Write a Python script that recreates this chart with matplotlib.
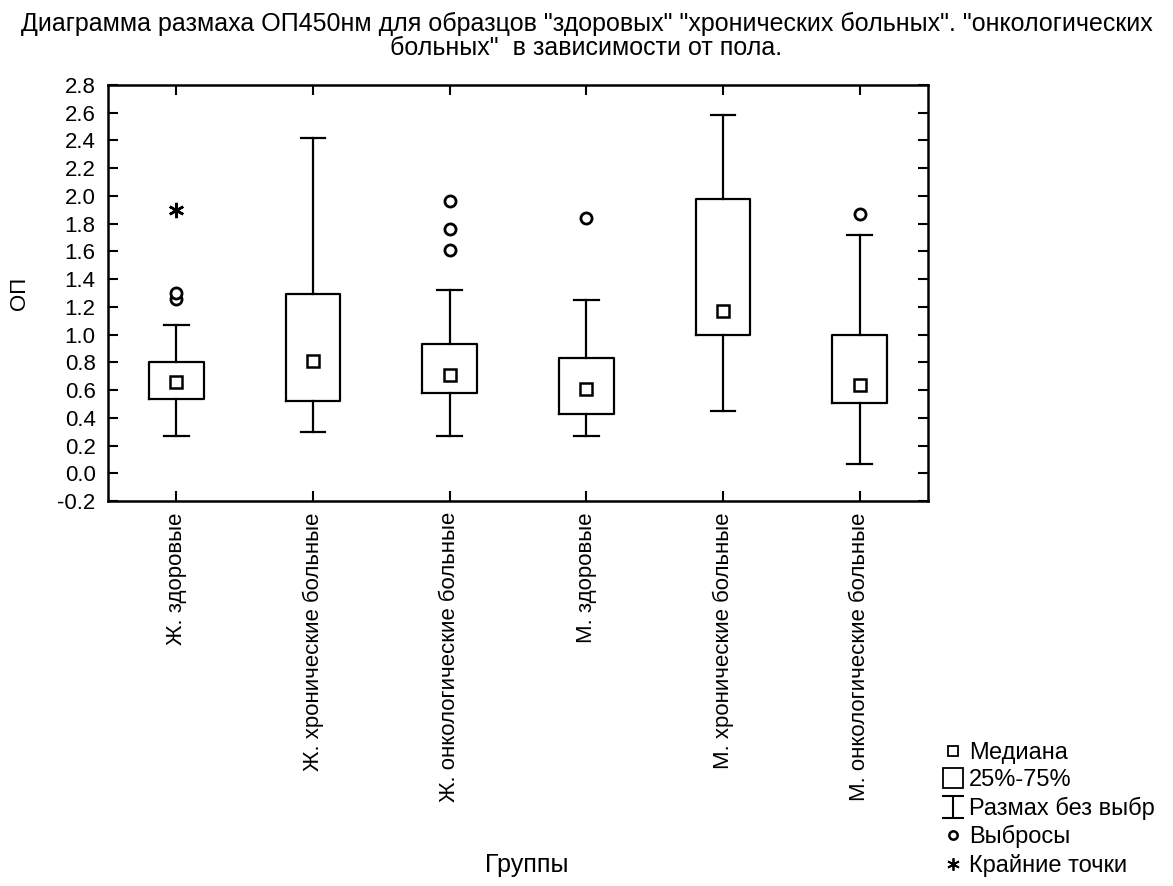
import matplotlib.pyplot as plt
from matplotlib.lines import Line2D
from matplotlib.path import Path

plt.rcParams['font.family'] = ['Liberation Sans', 'DejaVu Sans']

groups = ["Ж. здоровые", "Ж. хронические больные", "Ж. онкологические больные",
          "М. здоровые", "М. хронические больные", "М. онкологические больные"]
medians = [0.655, 0.81, 0.71, 0.61, 1.17, 0.64]
q1 = [0.535, 0.52, 0.58, 0.43, 1.00, 0.51]
q3 = [0.80, 1.29, 0.93, 0.83, 1.98, 1.00]
whisk_lo = [0.27, 0.30, 0.27, 0.27, 0.45, 0.065]
whisk_hi = [1.07, 2.42, 1.32, 1.25, 2.58, 1.72]
outliers = [[1.26, 1.30], [], [1.61, 1.76, 1.96], [1.84], [], [1.87]]
extremes = [[1.90], [], [], [], [], []]

yticks = [-0.2, 0.0, 0.2, 0.4, 0.6, 0.8, 1.0, 1.2, 1.4, 1.6, 1.8, 2.0, 2.2, 2.4, 2.6, 2.8]

fig = plt.figure(figsize=(11.73, 8.86), dpi=100)
ax = fig.add_axes([0.0921, 0.4345, 0.699, 0.4696])

pos = list(range(1, len(groups) + 1))
stats = []
for i in range(len(groups)):
    stats.append(dict(med=medians[i], q1=q1[i], q3=q3[i], whislo=whisk_lo[i],
                      whishi=whisk_hi[i], fliers=outliers[i]))

lw = 1.6
ax.bxp(stats, positions=pos, widths=0.4, showfliers=True,
       boxprops=dict(color="black", lw=lw),
       whiskerprops=dict(color="black", lw=lw),
       capprops=dict(color="black", lw=lw),
       capwidths=0.18,
       medianprops=dict(linestyle="none"),
       flierprops=dict(marker="o", markersize=8, markerfacecolor="white",
                       markeredgecolor="black", markeredgewidth=2))

ax.plot(pos, medians, ls="none", marker="s", markersize=9, markerfacecolor="white",
        markeredgecolor="black", markeredgewidth=1.8, zorder=4)

for p, ex in zip(pos, extremes):
    if ex:
        ax.plot([p] * len(ex), ex, ls="none", marker=(6, 2, 0), markersize=11,
                color="black", markeredgewidth=1.8)

ax.set_xlim(0.5, 6.5)
ax.set_ylim(-0.2, 2.8)
ax.set_yticks(yticks)
ax.set_yticklabels([f"{v:.1f}" for v in yticks], fontsize=16)
ax.set_xticks(pos)
ax.set_xticklabels(groups, rotation=90, fontsize=16)
ax.tick_params(direction="in", length=7, width=1.5, top=True, right=True)
ax.tick_params(axis="y", pad=9)
ax.tick_params(axis="x", pad=8)

for sp in ax.spines.values():
    sp.set_linewidth(1.8)

ax.set_ylabel("ОП", fontsize=16)
ax.yaxis.set_label_coords(-0.095, 0.5)
ax.set_xlabel("Группы", fontsize=18, va="center")
ax.xaxis.set_label_coords(0.511, -0.875)

fig.suptitle('Диаграмма размаха ОП450нм для образцов "здоровых" "хронических больных". "онкологических\n'
             'больных"  в зависимости от пола.', fontsize=18, y=0.987, va="top", linespacing=1.05)

ibeam = Path([(-1, 1), (1, 1), (0, 1), (0, -1), (-1, -1), (1, -1)],
             [Path.MOVETO, Path.LINETO, Path.MOVETO, Path.LINETO, Path.MOVETO, Path.LINETO])
handles = [
    Line2D([], [], ls="none", marker="s", markersize=7, markerfacecolor="white",
           markeredgecolor="black", markeredgewidth=1.3),
    Line2D([], [], ls="none", marker="s", markersize=15, markerfacecolor="white",
           markeredgecolor="black", markeredgewidth=1.3),
    Line2D([], [], ls="none", marker=ibeam, markersize=16, color="black",
           markeredgewidth=1.5),
    Line2D([], [], ls="none", marker="o", markersize=6, markerfacecolor="white",
           markeredgecolor="black", markeredgewidth=1.8),
    Line2D([], [], ls="none", marker=(6, 2, 0), markersize=9, color="black",
           markeredgewidth=1.3),
]
labels = ["Медиана", "25%-75%", "Размах без выбр", "Выбросы", "Крайние точки"]
fig.legend(handles, labels, loc="upper left", bbox_to_anchor=(0.793, 0.176),
           frameon=False, fontsize=17, handlelength=0.9, handletextpad=0.25,
           labelspacing=0.23, borderpad=0)

fig.savefig("out.png", dpi=100)
